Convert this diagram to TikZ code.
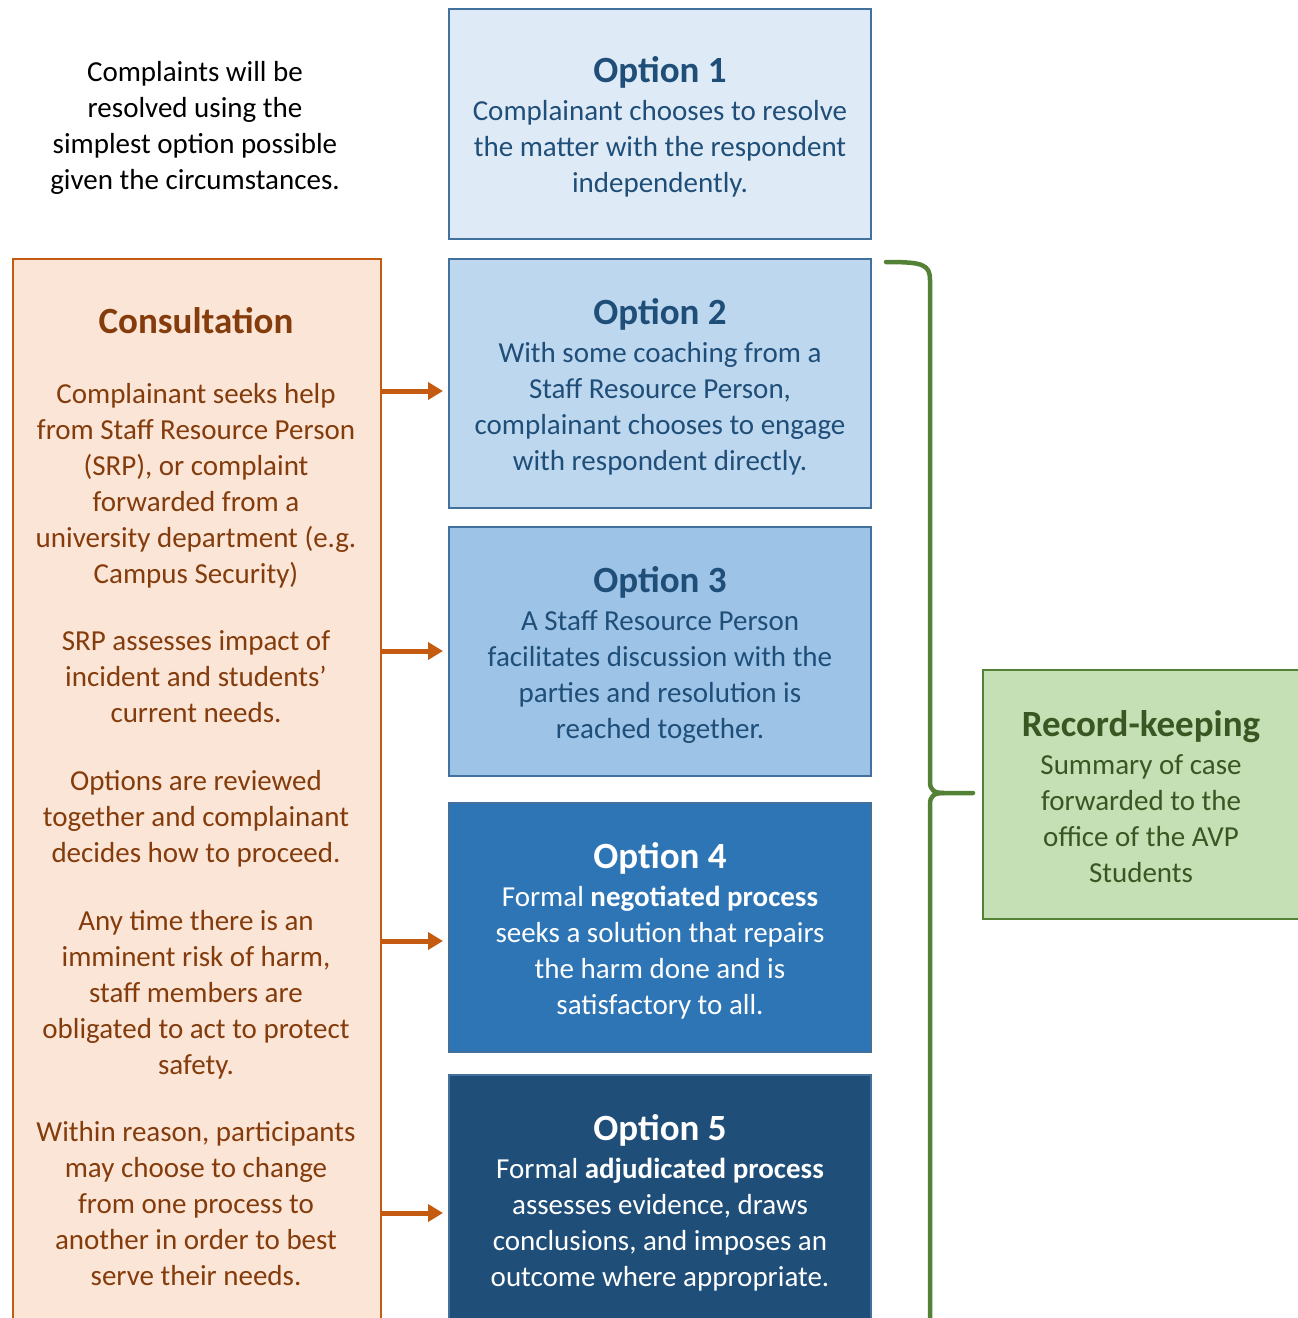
\documentclass[tikz,border=0pt]{standalone}
\usepackage{fontspec}
\setmainfont{Carlito}
\usetikzlibrary{arrows.meta}
\definecolor{optline}{HTML}{41719C}
\definecolor{optA}{HTML}{DEEBF7}
\definecolor{optB}{HTML}{BDD7EE}
\definecolor{optC}{HTML}{9DC3E6}
\definecolor{optD}{HTML}{2E75B6}
\definecolor{optE}{HTML}{1F4E79}
\definecolor{navytext}{HTML}{1F4E79}
\definecolor{consfill}{HTML}{FBE5D6}
\definecolor{consline}{HTML}{C55A11}
\definecolor{constext}{HTML}{843C0C}
\definecolor{recfill}{HTML}{C5E0B4}
\definecolor{recline}{HTML}{538135}
\definecolor{rectext}{HTML}{385723}
\newcommand{\titlesize}{\fontsize{37}{41}\selectfont\bfseries}
\tikzset{
  body/.style={font=\fontsize{29}{36}\selectfont, align=center, inner sep=0pt},
  optbox/.style={draw=optline, line width=2pt, minimum width=422pt, anchor=north west, inner sep=0pt},
  arr/.style={draw=consline, line width=5pt, -{Triangle[length=15pt,width=17pt]}},
  bracepath/.style={draw=recline, line width=4.5pt, line cap=round, line join=round}
}
\begin{document}
\begin{tikzpicture}[x=1pt,y=-1pt]
\useasboundingbox (0,0) rectangle (1298,1318);

% option boxes
\node[optbox, fill=optA, minimum height=230pt] (opt1) at (448,8) {};
\node[optbox, fill=optB, minimum height=249pt] (opt2) at (448,258) {};
\node[optbox, fill=optC, minimum height=249pt] (opt3) at (448,526) {};
\node[optbox, fill=optD, minimum height=249pt] (opt4) at (448,802) {};
\node[optbox, fill=optE, minimum height=260pt] (opt5) at (448,1074) {};

% consultation column
\node[draw=consline, fill=consfill, line width=2pt, minimum width=368pt, minimum height=1080pt,
      anchor=north west, inner sep=0pt] (cons) at (12,258) {};

% record-keeping box
\node[draw=recline, fill=recfill, line width=2pt, minimum width=316pt, minimum height=249pt,
      anchor=north west, inner sep=0pt] (rec) at (982,669) {};

% introductory note
\node[body] (intro) at (195,128) {Complaints will be\\ resolved using the\\ simplest option possible\\ given the circumstances.};

% option texts
\node[body, text=navytext] (t1) at ([yshift=-3pt]opt1.center) {{\titlesize Option 1}\\[2pt] Complainant chooses to resolve\\ the matter with the respondent\\ independently.};
\node[body, text=navytext] (t2) at ([yshift=-3pt]opt2.center) {{\titlesize Option 2}\\[2pt] With some coaching from a\\ Staff Resource Person,\\ complainant chooses to engage\\ with respondent directly.};
\node[body, text=navytext] (t3) at ([yshift=-3pt]opt3.center) {{\titlesize Option 3}\\[2pt] A Staff Resource Person\\ facilitates discussion with the\\ parties and resolution is\\ reached together.};
\node[body, text=white] (t4) at ([yshift=-3pt]opt4.center) {{\titlesize Option 4}\\[2pt] Formal \textbf{negotiated process}\\ seeks a solution that repairs\\ the harm done and is\\ satisfactory to all.};
\node[body, text=white] (t5) at ([yshift=2pt]opt5.center) {{\titlesize Option 5}\\[2pt] Formal \textbf{adjudicated process}\\ assesses evidence, draws\\ conclusions, and imposes an\\ outcome where appropriate.};

% consultation texts
\node[body, text=constext] (ct) at (196,321) {\titlesize Consultation};
\node[body, text=constext] (c1) at (196,486) {Complainant seeks help\\ from Staff Resource Person\\ (SRP), or complaint\\ forwarded from a\\ university department (e.g.\\ Campus Security)};
\node[body, text=constext] (c2) at (196,677) {SRP assesses impact of\\ incident and students’\\ current needs.};
\node[body, text=constext] (c3) at (196,819) {Options are reviewed\\ together and complainant\\ decides how to proceed.};
\node[body, text=constext] (c4) at (196,995) {Any time there is an\\ imminent risk of harm,\\ staff members are\\ obligated to act to protect\\ safety.};
\node[body, text=constext] (c5) at (196,1204) {Within reason, participants\\ may choose to change\\ from one process to\\ another in order to best\\ serve their needs.};

% record-keeping text
\node[body, text=rectext] (rt) at ([yshift=-2pt]rec.center) {{\titlesize Record-keeping}\\[2pt] Summary of case\\ forwarded to the\\ office of the AVP\\ Students};

% arrows from consultation to options
\draw[arr] (cons.east |- 0,391) -- ([xshift=-5pt]opt2.west |- 0,391);
\draw[arr] (cons.east |- 0,651) -- ([xshift=-5pt]opt3.west |- 0,651);
\draw[arr] (cons.east |- 0,941) -- ([xshift=-5pt]opt4.west |- 0,941);
\draw[arr] (cons.east |- 0,1213) -- ([xshift=-5pt]opt5.west |- 0,1213);

% brace grouping options 2 to 5
\coordinate (btop) at (886,262);
\coordinate (bmid) at (944,793);
\coordinate (bbot) at (930,1330);
\draw[bracepath] (btop) .. controls (922,262) and (930,264) .. (930,280)
  -- (930,782) .. controls (930,790) and (934,793) .. (bmid) -- ([xshift=-9pt]rec.west |- bmid);
\draw[bracepath] (bmid) .. controls (934,793) and (930,796) .. (930,804) -- (bbot);
\end{tikzpicture}
\end{document}
